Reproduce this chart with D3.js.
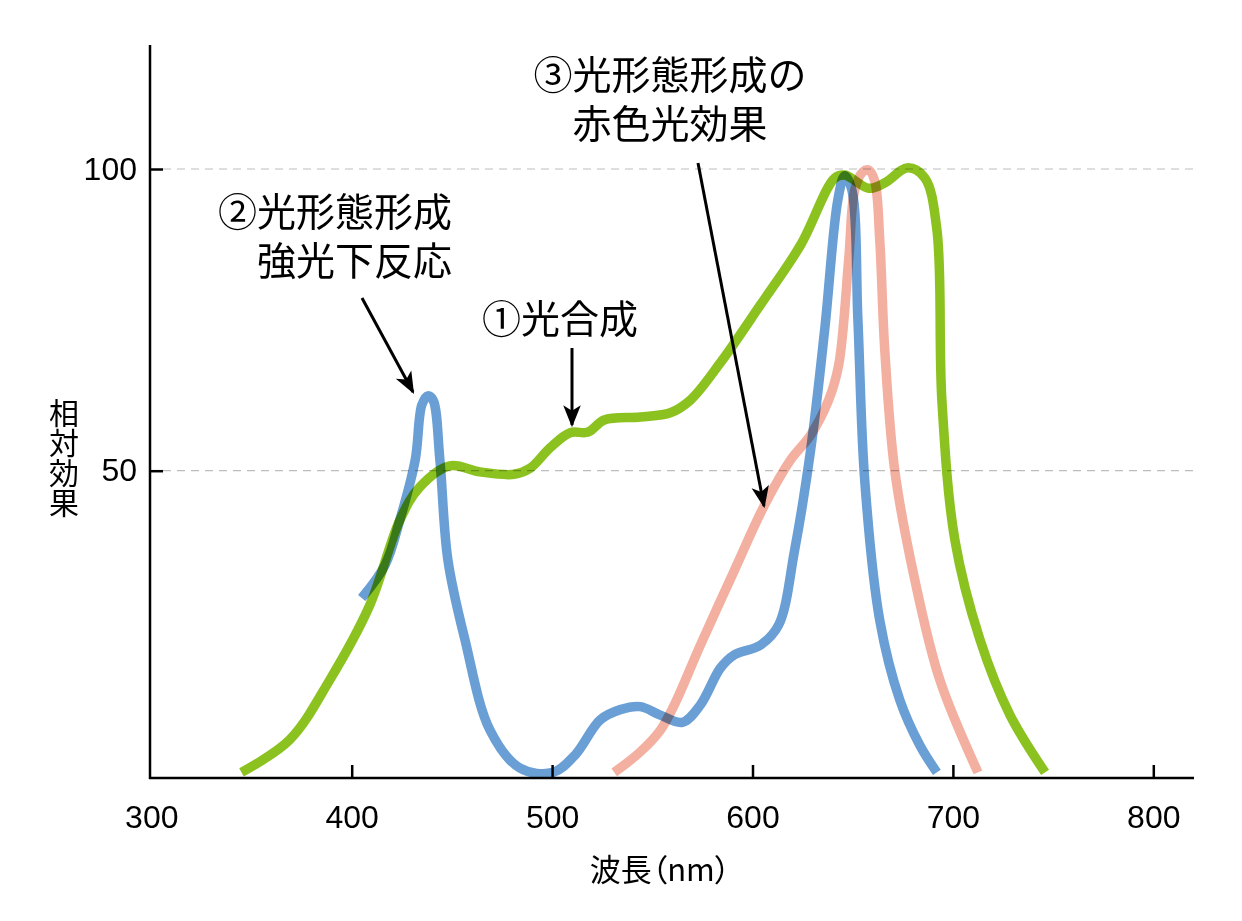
<!DOCTYPE html>
<html><head><meta charset="utf-8">
<script src="https://cdn.jsdelivr.net/npm/d3@7"></script>
<style>
html,body{margin:0;padding:0;background:#fff;}
svg{display:block;}
text{font-family:"Noto Sans CJK JP","Noto Sans",sans-serif;fill:#000;}
</style></head>
<body>
<svg id="chart" width="1242" height="921"></svg>
<script>
// ---- data ----
const xTicks = [300, 400, 500, 600, 700, 800];
const yTicks = [50, 100];
const xLabel = "波長（nm）";
const yLabel = "相対効果";

// ① photosynthesis (green)
const photoNm  = [345, 369, 389, 409, 424, 434, 449, 464, 481, 489, 499, 509, 518, 526, 544, 559, 569, 584, 604, 624, 641, 646, 658, 666, 677.5, 686, 692, 694.5, 701, 713.5, 728.5, 746];
const photoVal = [0, 5.4, 15.3, 27.7, 41.8, 47.3, 50.8, 49.8, 49.4, 50.4, 53.8, 56.3, 56.4, 58.4, 58.9, 59.6, 61.7, 67.9, 77.5, 87.4, 98.5, 99, 96.8, 97.7, 100.2, 98.5, 90, 61.7, 38.5, 22, 9.5, 0];

// ② high-light morphogenesis (blue)
const hirNm  = [405, 416.7, 424, 431.7, 435, 438, 440.6, 444, 448, 456.5, 469, 484, 500.5, 511.5, 524, 534, 544, 554, 565, 574, 584, 591, 604, 613, 621, 629, 636, 642.6, 646, 649.6, 652.6, 656, 663.5, 673.5, 683.5, 692];
const hirVal = [28.9, 34.4, 41.8, 51.8, 60.9, 62.4, 61.7, 51.8, 35.2, 22, 7, 0.7, 0, 2.9, 8.7, 10.4, 10.9, 9.5, 8.3, 11.2, 17.3, 19.5, 21.1, 24.4, 36.8, 53.4, 73.3, 94.9, 98.9, 96.5, 75, 48.4, 25.2, 12, 4.5, 0];

// ③ red-light morphogenesis (pink)
const redNm  = [531, 544, 554, 561, 574, 591, 606, 619, 629, 638, 643, 648, 651, 655, 658, 661, 663.5, 666, 671, 681, 693.5, 712.5];
const redVal = [0, 3.4, 7, 11.2, 21.1, 33.5, 44.3, 51.8, 55.9, 61.7, 67.5, 85, 96.5, 99.5, 99.8, 98, 88.2, 70, 50, 31.9, 15.3, 0];

const annotations = [
  {lines: ["②光形態形成", "強光下反応"], anchor: "end"},
  {lines: ["①光合成"], anchor: "start"},
  {lines: ["③光形態形成の", "赤色光効果"], anchor: "middle"}
];

// ---- drawing ----
const svg = d3.select("#chart");
const x = d3.scaleLinear().domain([300, 800]).range([151.3, 1153.3]);
const y = d3.scaleLinear().domain([0, 100]).range([772.4, 169]);
const axisY = 778, axisX = 150;
const numFont = "'Liberation Sans', Arial, sans-serif";

// grid lines
svg.append("g").selectAll("line").data(yTicks).join("line")
  .attr("x1", 163).attr("x2", 1195)
  .attr("y1", d => y(d)).attr("y2", d => y(d))
  .attr("stroke", "#bdbdbd").attr("stroke-width", 1.2)
  .attr("stroke-dasharray", "8,6");

// curves
const line = d3.line().x(d => x(d[0])).y(d => y(d[1])).curve(d3.curveCatmullRom.alpha(0.5));
const series = [
  {nm: photoNm, v: photoVal, color: "#8cc21f"},
  {nm: redNm, v: redVal, color: "#f3b0a1"},
  {nm: hirNm, v: hirVal, color: "#6a9fd5"}
];
const cg = svg.append("g");
series.forEach(s => {
  cg.append("path")
    .datum(d3.zip(s.nm, s.v))
    .attr("d", line)
    .attr("fill", "none")
    .attr("stroke", s.color)
    .attr("stroke-width", 9.5)
    .attr("stroke-linecap", "butt")
    .attr("stroke-linejoin", "round")
    .style("mix-blend-mode", "multiply");
});

// axes
const xAxis = d3.axisBottom(x).tickValues(xTicks).tickSize(-13).tickPadding(27).tickFormat(d3.format("d"));
const gx = svg.append("g").attr("transform", `translate(0,${axisY})`).call(xAxis);
gx.select(".domain").remove();
gx.selectAll(".tick line").attr("stroke", "#000").attr("stroke-width", 2.5)
  .filter(d => d === 300).remove();
gx.selectAll(".tick text").style("font-size", "32px").style("font-family", numFont).style("fill", "#000");

const yAxis = d3.axisLeft(y).tickValues(yTicks).tickSize(-13).tickPadding(13).tickFormat(d3.format("d"));
const gy = svg.append("g").attr("transform", `translate(${axisX},0)`).call(yAxis);
gy.select(".domain").remove();
gy.selectAll(".tick line").attr("stroke", "#000").attr("stroke-width", 2.5);
gy.selectAll(".tick text").style("font-size", "32px").style("font-family", numFont).style("fill", "#000");

svg.append("line").attr("x1", axisX).attr("x2", axisX).attr("y1", 45).attr("y2", axisY + 1)
  .attr("stroke", "#000").attr("stroke-width", 2.5);
svg.append("line").attr("x1", axisX - 1).attr("x2", 1194).attr("y1", axisY).attr("y2", axisY)
  .attr("stroke", "#000").attr("stroke-width", 2.5);

// axis labels
svg.append("text").attr("x", 660).attr("y", 881).attr("text-anchor", "middle")
  .attr("font-size", 31).style("font-feature-settings", "'palt' 1").text(xLabel);
svg.append("text").attr("x", 64).attr("y", 458)
  .attr("text-anchor", "middle").attr("font-size", 30)
  .style("writing-mode", "vertical-rl").text(yLabel);

// annotations
const ann = svg.append("g").attr("font-size", 39);
const annPos = [[452, 226, 49], [482, 333, 0], [670, 89, 49]];
annotations.forEach((a, i) => {
  const [ax, ay, lh] = annPos[i];
  a.lines.forEach((l, j) => ann.append("text").attr("text-anchor", a.anchor)
    .attr("x", ax).attr("y", ay + j * lh).text(l));
});

// arrows
const defs = svg.append("defs");
defs.append("marker").attr("id", "ah").attr("viewBox", "0 0 10 10")
  .attr("refX", 9).attr("refY", 5)
  .attr("markerUnits", "userSpaceOnUse").attr("orient", "auto")
  .attr("markerWidth", 22).attr("markerHeight", 22)
  .append("path").attr("d", "M0,1 L10,5 L0,9 L2.5,5 Z").attr("fill", "#000");
const arrows = [[362, 298, 413, 392], [572, 348, 572, 425], [698, 163, 764, 506]];
svg.append("g").selectAll("line").data(arrows).join("line")
  .attr("x1", d => d[0]).attr("y1", d => d[1]).attr("x2", d => d[2]).attr("y2", d => d[3])
  .attr("stroke", "#000").attr("stroke-width", 3).attr("marker-end", "url(#ah)");
</script>
</body></html>
